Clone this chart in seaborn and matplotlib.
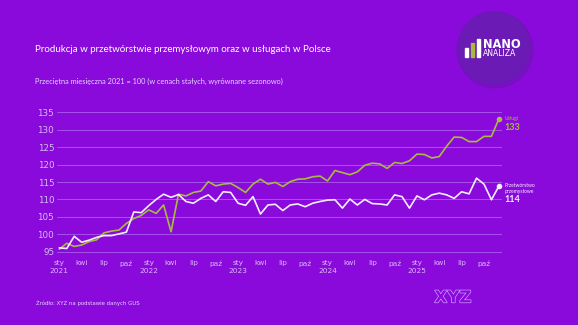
import numpy as np
import pandas as pd
import matplotlib
matplotlib.use("Agg")
import matplotlib.pyplot as plt
import matplotlib.patheffects as pe
from matplotlib.patches import Circle, Rectangle
import seaborn as sns

# ---- data ----
months_pl = ["sty", "lut", "mar", "kwi", "maj", "cze", "lip", "sie", "wrz", "paź", "lis", "gru"]
years = [2021, 2022, 2023, 2024, 2025]

uslugi = [95.7, 97.4, 96.5, 96.9, 97.9, 98.4, 100.4, 100.9, 101.2, 103.1, 104.5, 105.4,
          107.0, 106.0, 108.4, 100.7, 111.5, 111.0, 112.0, 112.4, 115.1, 113.9, 114.4, 114.6,
          113.4, 112.0, 114.4, 115.8, 114.4, 114.9, 113.7, 115.1, 115.8, 115.9, 116.5, 116.7,
          115.3, 118.3, 117.7, 117.1, 117.9, 119.8, 120.4, 120.2, 118.9, 120.6, 120.3, 121.1,
          123.0, 122.9, 121.9, 122.3, 125.3, 127.9, 127.8, 126.6, 126.6, 128.1, 128.1, 133.1]

przemysl = [96.1, 95.9, 99.4, 97.7, 98.3, 99.1, 99.6, 99.6, 100.1, 100.6, 106.4, 106.2,
            108.2, 110.0, 111.5, 110.6, 111.4, 109.4, 108.9, 110.3, 111.3, 109.4, 112.2, 112.0,
            108.9, 108.3, 110.8, 105.8, 108.4, 108.6, 106.8, 108.4, 108.7, 107.9, 108.9, 109.4,
            109.8, 109.9, 107.5, 110.1, 108.4, 110.0, 108.8, 108.7, 108.4, 111.3, 110.8, 107.5,
            111.0, 109.9, 111.3, 111.8, 111.3, 110.3, 112.2, 111.6, 116.1, 114.4, 109.9, 113.8]

series_names = ["Usługi", "Przetwórstwo przemysłowe"]
y_ticks = [95, 100, 105, 110, 115, 120, 125, 130, 135]

BG = "#8A0ADC"
GRID = "#A552EA"
TICK = "#D9B9F7"
OLIVE = "#A9BB3E"
WHITE = "#F6EEFF"

n = len(uslugi)
df = pd.DataFrame({
    "t": list(range(n)) * 2,
    "val": uslugi + przemysl,
    "seria": [series_names[0]] * n + [series_names[1]] * n,
})

sns.set_theme(style="white")
plt.rcParams["font.family"] = ["Lato", "DejaVu Sans"]

W, H = 578, 325
fig = plt.figure(figsize=(W / 100, H / 100), dpi=100, facecolor=BG)

def fx(x):
    return x / W

def fy(y):
    return 1 - y / H

ax_l, ax_r = 57, 502
ax_t, ax_b = 110.6, 253.4
ax = fig.add_axes([fx(ax_l), fy(ax_b), fx(ax_r - ax_l), (ax_b - ax_t) / H])
ax.set_facecolor(BG)

sns.lineplot(data=df, x="t", y="val", hue="seria", palette=[OLIVE, WHITE],
             hue_order=series_names, linewidth=1.2, ax=ax, legend=False)

ax.set_xlim(-0.31, 59.42)
ax.set_ylim(94.5, 135.5)
ax.set_yticks(y_ticks)
ax.set_yticklabels([str(v) for v in y_ticks], color=TICK, fontsize=6.3, family="DejaVu Sans")
for v in y_ticks:
    ax.axhline(v, color=GRID, linewidth=0.7, zorder=0)

xt = list(range(0, n, 3))
xl = []
for t in xt:
    m = months_pl[t % 12]
    if t % 12 == 0:
        xl.append(f"{m}\n{years[t // 12]}")
    else:
        xl.append(m)
ax.set_xticks(xt)
ax.set_xticklabels(xl, color=TICK, fontsize=5.3, family="DejaVu Sans", linespacing=1.4, va="top")
ax.tick_params(axis="both", length=0)
ax.tick_params(axis="y", pad=2)
ax.tick_params(axis="x", pad=5)
ax.set_xlabel("")
ax.set_ylabel("")
for s in ax.spines.values():
    s.set_visible(False)

# end points and labels
ax.scatter([n - 1], [uslugi[-1]], s=9, color=OLIVE, zorder=5, clip_on=False)
ax.scatter([n - 1], [przemysl[-1]], s=9, color=WHITE, zorder=5, clip_on=False)
ax.annotate("Usługi", xy=(n - 1, uslugi[-1]), xytext=(4, 0), textcoords="offset points",
            color=OLIVE, fontsize=3.6, va="center", ha="left", annotation_clip=False)
ax.annotate(f"{round(uslugi[-1])}", xy=(n - 1, uslugi[-1]), xytext=(4, -6), textcoords="offset points",
            color=OLIVE, fontsize=6.5, fontweight="bold", va="center", ha="left", annotation_clip=False)
ax.annotate("Przetwórstwo\nprzemysłowe", xy=(n - 1, przemysl[-1]), xytext=(4, -1.5), textcoords="offset points",
            color=WHITE, fontsize=3.6, va="center", ha="left", linespacing=1.3, annotation_clip=False)
ax.annotate(f"{round(przemysl[-1])}", xy=(n - 1, przemysl[-1]), xytext=(4, -9.5), textcoords="offset points",
            color=WHITE, fontsize=6.5, fontweight="bold", va="center", ha="left", annotation_clip=False)

# titles
fig.text(fx(35), fy(50), "Produkcja w przetwórstwie przemysłowym oraz w usługach w Polsce",
         color="white", fontsize=7.0, va="center", ha="left")
fig.text(fx(35), fy(81), "Przeciętna miesięczna 2021 = 100 (w cenach stałych, wyrównane sezonowo)",
         color="#E6D2FA", fontsize=5.3, va="center", ha="left")

# footer
fig.text(fx(36), fy(303), "Źródło: XYZ na podstawie danych GUS", color="#E6D2FA",
         fontsize=3.9, va="center", ha="left", family="DejaVu Sans")
fig.text(fx(453), fy(297.5), "XYZ", color=BG, fontsize=12, fontweight="bold",
         va="center", ha="center", family="DejaVu Sans",
         path_effects=[pe.withStroke(linewidth=0.9, foreground="#D4A8FF")])

# logo
lax = fig.add_axes([0, 0, 1, 1], facecolor="none")
lax.set_xlim(0, W)
lax.set_ylim(H, 0)
lax.axis("off")
lax.add_patch(Circle((495, 50), 38, color="#5E1B9E", alpha=0.35, zorder=1))
lax.add_patch(Circle((494, 48), 36, color="#6B1AB5", zorder=2))
lax.add_patch(Rectangle((465, 48), 3, 9, color="white", zorder=3))
lax.add_patch(Rectangle((471, 43), 3, 14, color=OLIVE, zorder=3))
lax.add_patch(Rectangle((477, 39), 3, 18, color="white", zorder=3))
lax.text(482.5, 44, "NANO", color="white", fontsize=8.3, fontweight="bold",
         va="center", ha="left", family="DejaVu Sans Condensed", zorder=4)
lax.text(483, 54, "ANALIZA", color="white", fontsize=5.6,
         va="center", ha="left", family="DejaVu Sans Condensed", zorder=4)

fig.savefig("out.png", dpi=100, facecolor=BG)
